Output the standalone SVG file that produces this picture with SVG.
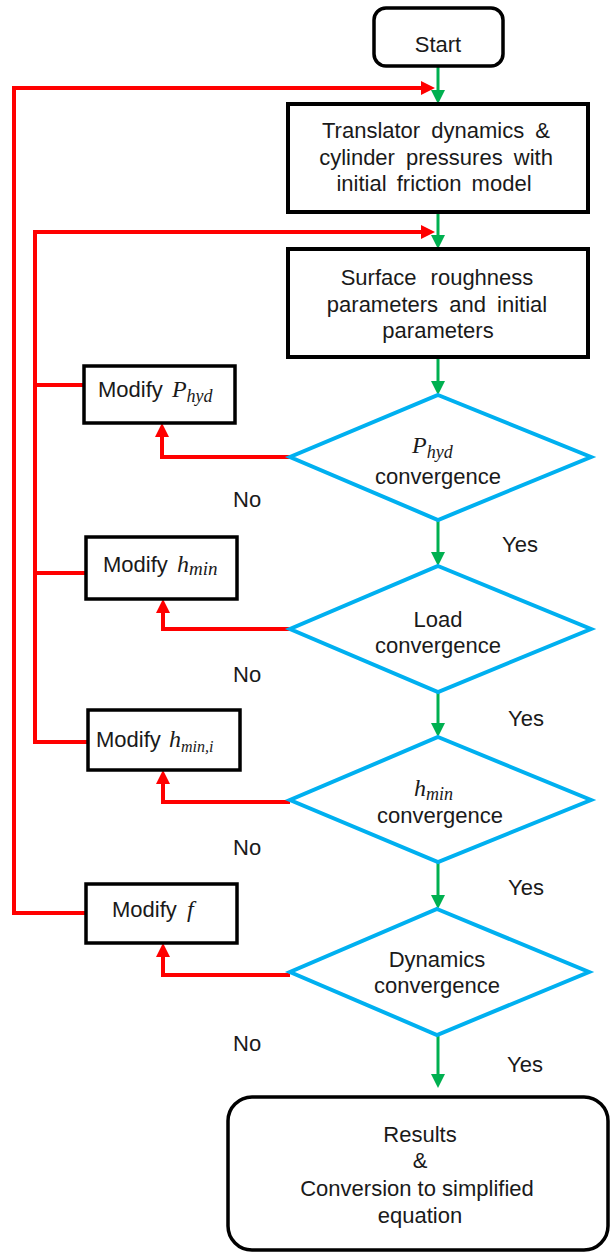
<svg xmlns="http://www.w3.org/2000/svg" width="612" height="1255" viewBox="0 0 612 1255">
<defs>
<style>
.box{fill:#fff;stroke:#000;stroke-width:4}
.rbox{fill:#fff;stroke:#000;stroke-width:3.5}
.dia{fill:#fff;stroke:#00B0F0;stroke-width:4}
.t{font-family:"Liberation Sans",Arial,sans-serif;font-size:22px;fill:#1a1a1a}
.m{font-family:"Liberation Serif","Times New Roman",serif;font-style:italic;fill:#1a1a1a}
.g{fill:none;stroke:#00B050;stroke-width:3}
.r{fill:none;stroke:#FF0000;stroke-width:4;stroke-linejoin:miter}
</style>
<marker id="ag" viewBox="0 0 14 14" refX="2" refY="7" markerWidth="14" markerHeight="14" markerUnits="userSpaceOnUse" orient="auto">
<path d="M0,0 L14,7 L0,14 z" fill="#00B050"/>
</marker>
<marker id="ar" viewBox="0 0 14 14" refX="2" refY="7" markerWidth="14" markerHeight="14" markerUnits="userSpaceOnUse" orient="auto">
<path d="M0,0 L14,7 L0,14 z" fill="#FF0000"/>
</marker>
</defs>
<rect width="612" height="1255" fill="#fff"/>

<g id="connectors">
<path class="g" d="M438,66 V92" marker-end="url(#ag)"/>
<path class="g" d="M438,212 V237" marker-end="url(#ag)"/>
<path class="g" d="M438,357 V383" marker-end="url(#ag)"/>
<path class="g" d="M438,520 V554" marker-end="url(#ag)"/>
<path class="g" d="M438,692 V725" marker-end="url(#ag)"/>
<path class="g" d="M438,862 V897" marker-end="url(#ag)"/>
<path class="g" d="M438,1035 V1076" marker-end="url(#ag)"/>
<path class="r" d="M86,913 H14 V88 H423" marker-end="url(#ar)"/>
<path class="r" d="M88,742 H35 V232 H423" marker-end="url(#ar)"/>
<path class="r" d="M35,385 H84"/>
<path class="r" d="M35,573 H86"/>
<path class="r" d="M290,457 H162 V435" marker-end="url(#ar)"/>
<path class="r" d="M290,629 H163 V611" marker-end="url(#ar)"/>
<path class="r" d="M290,802 H163 V782" marker-end="url(#ar)"/>
<path class="r" d="M290,975 H163 V955" marker-end="url(#ar)"/>
<text class="t" x="233" y="507">No</text>
<text class="t" x="233" y="682">No</text>
<text class="t" x="233" y="855">No</text>
<text class="t" x="233" y="1051">No</text>
<text class="t" x="502" y="552">Yes</text>
<text class="t" x="508" y="726">Yes</text>
<text class="t" x="508" y="895">Yes</text>
<text class="t" x="507" y="1072">Yes</text>
</g>

<g id="start">
<rect class="rbox" x="374" y="8" width="129" height="58" rx="12"/>
<text class="t" x="438" y="52" text-anchor="middle">Start</text>
</g>

<g id="translator">
<rect class="box" x="288" y="104" width="300" height="108"/>
<text class="t" x="436" y="138" text-anchor="middle" word-spacing="5">Translator dynamics &amp;</text>
<text class="t" x="436" y="165" text-anchor="middle" word-spacing="5">cylinder pressures with</text>
<text class="t" x="434" y="191" text-anchor="middle" word-spacing="4">initial friction model</text>
</g>

<g id="surface">
<rect class="box" x="288" y="249" width="300" height="108"/>
<text class="t" x="437" y="285" text-anchor="middle" word-spacing="8">Surface roughness</text>
<text class="t" x="437" y="312" text-anchor="middle" word-spacing="5">parameters and initial</text>
<text class="t" x="438" y="338" text-anchor="middle">parameters</text>
</g>

<g id="d-phyd">
<polygon class="dia" points="438,395 591,457 438,520 290,457"/>
<text x="412" y="453"><tspan class="m" font-size="24">P</tspan><tspan class="m" font-size="18" dy="5">hyd</tspan></text>
<text class="t" x="438" y="484" text-anchor="middle">convergence</text>
</g>

<g id="d-load">
<polygon class="dia" points="438,566 591,629 438,692 290,629"/>
<text class="t" x="438" y="627" text-anchor="middle">Load</text>
<text class="t" x="438" y="653" text-anchor="middle">convergence</text>
</g>

<g id="d-hmin">
<polygon class="dia" points="438,737 591,800 438,862 290,800"/>
<text x="414" y="796"><tspan class="m" font-size="24">h</tspan><tspan class="m" font-size="18" dy="4">min</tspan></text>
<text class="t" x="440" y="823" text-anchor="middle">convergence</text>
</g>

<g id="d-dyn">
<polygon class="dia" points="437,909 589,972 437,1035 290,972"/>
<text class="t" x="437" y="967" text-anchor="middle">Dynamics</text>
<text class="t" x="437" y="993" text-anchor="middle">convergence</text>
</g>

<g id="mod-phyd">
<rect class="rbox" x="84" y="366" width="151" height="57"/>
<text x="98" y="397"><tspan class="t">Modify </tspan><tspan class="m" font-size="24" dx="3">P</tspan><tspan class="m" font-size="18" dy="5">hyd</tspan></text>
</g>

<g id="mod-hmin">
<rect class="rbox" x="86" y="537" width="151" height="62"/>
<text x="103" y="572"><tspan class="t">Modify </tspan><tspan class="m" font-size="24" dx="3">h</tspan><tspan class="m" font-size="19" dy="3">min</tspan></text>
</g>

<g id="mod-hmini">
<rect class="rbox" x="88" y="710" width="152" height="60"/>
<text x="96" y="747"><tspan class="t">Modify </tspan><tspan class="m" font-size="24" dx="2">h</tspan><tspan class="m" font-size="16" dy="5">min,i</tspan></text>
</g>

<g id="mod-f">
<rect class="rbox" x="86" y="884" width="151" height="59"/>
<text x="112" y="917"><tspan class="t">Modify </tspan><tspan class="m" font-size="24" dx="4">f</tspan></text>
</g>

<g id="results">
<rect class="rbox" x="228" y="1097" width="380" height="153" rx="24"/>
<text class="t" x="420" y="1142" text-anchor="middle">Results</text>
<text class="t" x="420" y="1168" text-anchor="middle">&amp;</text>
<text class="t" x="417" y="1196" text-anchor="middle">Conversion to simplified</text>
<text class="t" x="420" y="1223" text-anchor="middle">equation</text>
</g>
</svg>
